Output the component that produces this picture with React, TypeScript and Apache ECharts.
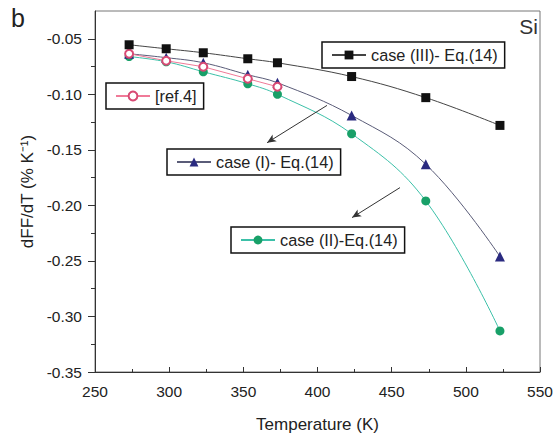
import React, { useEffect, useRef } from "react";
import * as echarts from "echarts";

const temps = [273, 298, 323, 353, 373, 423, 473, 523];
const caseIII = [-0.0554, -0.059, -0.0626, -0.068, -0.0716, -0.084, -0.103, -0.128];
const caseI = [-0.0635, -0.067, -0.0716, -0.0824, -0.0896, -0.119, -0.163, -0.246];
const caseII = [-0.066, -0.0707, -0.0797, -0.0905, -0.1, -0.1355, -0.196, -0.313];
const ref4Temps = [273, 298, 323, 353, 373];
const ref4 = [-0.0635, -0.0698, -0.0752, -0.086, -0.0932];

const yMajorTicks = [-0.35, -0.3, -0.25, -0.2, -0.15, -0.1, -0.05];
const yMinorTicks = [-0.325, -0.275, -0.225, -0.175, -0.125, -0.075];

const nameIII = "case (III)- Eq.(14)";
const nameRef = "[ref.4]";
const nameI = "case (I)- Eq.(14)";
const nameII = "case (II)-Eq.(14)";

// annotation arrows: [startT, startV, endT, endV]
const arrow1 = [406.4, -0.11, 366, -0.1436];
const arrow2 = [455.6, -0.184, 423.3, -0.211];

const FONT = "'Liberation Sans', Arial, sans-serif";

const pair = (xs: number[], ys: number[]) => xs.map((x, i) => [x, ys[i]]);

export default function App() {
  const ref = useRef<HTMLDivElement>(null);
  useEffect(() => {
    if (!ref.current) return;
    const chart = echarts.init(ref.current, undefined, { renderer: "svg" });
    const legendBase = {
      orient: "horizontal",
      borderColor: "#111",
      borderWidth: 1.5,
      backgroundColor: "#fff",
      padding: [5, 7, 5, 9],
      itemWidth: 34,
      itemHeight: 11,
      textStyle: { fontSize: 16.3, color: "#222", fontFamily: FONT },
      selectedMode: false,
    };
    chart.setOption({
      animation: false,
      textStyle: { fontFamily: FONT },
      grid: {
        left: 95,
        right: 17,
        top: 11,
        bottom: 65,
        show: true,
        borderColor: "#777",
        borderWidth: 1,
        backgroundColor: "transparent",
      },
      legend: [
        { ...legendBase, data: [nameIII], left: 322, top: 42 },
        { ...legendBase, data: [nameRef], left: 106, top: 83 },
        { ...legendBase, data: [nameI], left: 167, top: 149 },
        { ...legendBase, data: [nameII], left: 231, top: 227 },
      ],
      xAxis: {
        type: "value",
        min: 250,
        max: 550,
        interval: 50,
        name: "Temperature (K)",
        nameLocation: "middle",
        nameGap: 44,
        nameTextStyle: { fontSize: 17, color: "#222" },
        axisLine: { lineStyle: { color: "#333", width: 1 } },
        axisTick: { inside: true, length: 5, lineStyle: { color: "#333" } },
        minorTick: { show: true, splitNumber: 2, length: 3, lineStyle: { color: "#333" } },
        axisLabel: { fontSize: 15.5, color: "#222", margin: 11 },
        splitLine: { show: false },
      },
      yAxis: [
        {
          type: "value",
          min: -0.35,
          max: -0.025,
          name: "dFF/dT (% K\u207B\u00B9)",
          nameLocation: "middle",
          nameGap: 57,
          nameTextStyle: { fontSize: 17, color: "#222" },
          axisLine: { show: true, lineStyle: { color: "#333", width: 1 } },
          axisTick: { show: true, length: 7, customValues: yMajorTicks, lineStyle: { color: "#333" } },
          axisLabel: {
            fontSize: 15.5,
            color: "#222",
            margin: 13,
            customValues: yMajorTicks,
            formatter: (v: number) => v.toFixed(2),
          },
          splitLine: { show: false },
        },
        {
          type: "value",
          min: -0.35,
          max: -0.025,
          position: "left",
          axisLine: { show: false },
          axisTick: { show: true, length: 4, customValues: yMinorTicks, lineStyle: { color: "#333" } },
          axisLabel: { show: false },
          splitLine: { show: false },
        },
      ],
      series: [
        {
          name: nameIII,
          type: "line",
          smooth: 0.4,
          data: pair(temps, caseIII),
          symbol: "rect",
          symbolSize: 9,
          lineStyle: { color: "#444", width: 1 },
          itemStyle: { color: "#111" },
          z: 5,
          markLine: {
            silent: true,
            symbol: ["none", "arrow"],
            symbolSize: [6, 9],
            label: { show: false },
            lineStyle: { color: "#333", width: 1, type: "solid" },
            data: [
              [{ coord: [arrow1[0], arrow1[1]] }, { coord: [arrow1[2], arrow1[3]] }],
              [{ coord: [arrow2[0], arrow2[1]] }, { coord: [arrow2[2], arrow2[3]] }],
            ],
          },
        },
        {
          name: nameRef,
          type: "line",
          data: pair(ref4Temps, ref4),
          symbol: "emptyCircle",
          symbolSize: 8,
          lineStyle: { color: "#f07a98", width: 1 },
          itemStyle: { color: "#d84a74", borderWidth: 1.2 },
          z: 4,
        },
        {
          name: nameI,
          type: "line",
          smooth: 0.4,
          data: pair(temps, caseI),
          symbol: "triangle",
          symbolSize: 10,
          lineStyle: { color: "#5a5c78", width: 1 },
          itemStyle: { color: "#2a2a80" },
          z: 3,
        },
        {
          name: nameII,
          type: "line",
          smooth: 0.4,
          data: pair(temps, caseII),
          symbol: "circle",
          symbolSize: 9,
          lineStyle: { color: "#3cc0a8", width: 1 },
          itemStyle: { color: "#18a068" },
          z: 2,
        },
      ],
      graphic: [
        {
          type: "text",
          left: 11,
          top: 5,
          style: { text: "b", fontSize: 25, fill: "#222", fontFamily: FONT },
        },
        {
          type: "text",
          right: 19,
          top: 16,
          style: { text: "Si", fontSize: 21, fill: "#333", fontFamily: FONT },
        },
      ],
    });
    return () => chart.dispose();
  }, []);
  return (
    <div
      ref={ref}
      style={{ position: "fixed", left: 0, top: 0, width: 557, height: 438, background: "#fff" }}
    />
  );
}
